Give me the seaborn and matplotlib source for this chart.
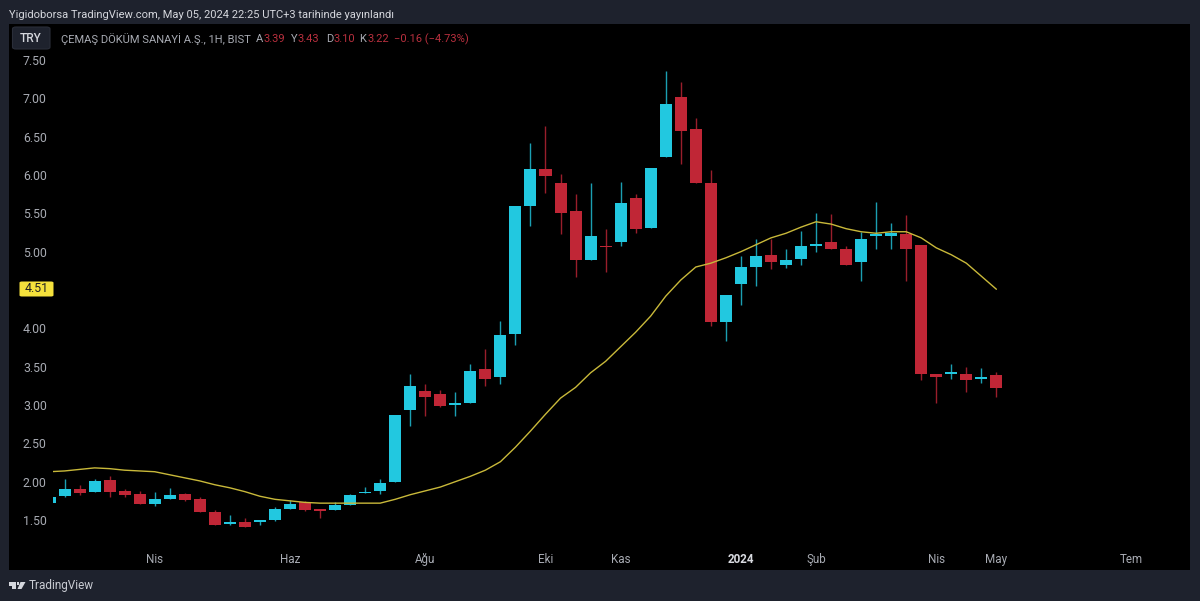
import numpy as np
import pandas as pd
import seaborn as sns
import matplotlib.pyplot as plt
from matplotlib.patches import FancyBboxPatch, Rectangle, Polygon

# candle data, one row per bar
opens = [1.72, 1.81, 1.90, 1.87, 2.02, 1.88, 1.84, 1.71, 1.78, 1.84, 1.78, 1.61, 1.45, 1.47, 1.48, 1.50,
         1.65, 1.73, 1.64, 1.63, 1.70, 1.85, 1.88, 2.00, 2.93, 3.18, 3.15, 3.00, 3.02, 3.47, 3.37, 3.93,
         5.59, 6.08, 5.90, 5.53, 4.89, 5.08, 5.12, 5.70, 5.31, 6.23, 7.02, 6.60, 5.90, 4.08, 4.58, 4.80,
         4.96, 4.83, 4.90, 5.08, 5.13, 5.04, 4.86, 5.21, 5.21, 5.23, 5.09, 3.41, 3.41, 3.40, 3.34, 3.39]
highs = [1.80, 2.03, 1.96, 2.04, 2.07, 1.91, 1.88, 1.86, 1.92, 1.85, 1.80, 1.63, 1.57, 1.53, 1.50, 1.67,
         1.76, 1.75, 1.65, 1.73, 1.84, 1.93, 2.03, 2.87, 3.41, 3.27, 3.20, 3.17, 3.54, 3.73, 4.10, 5.59,
         6.42, 6.64, 6.01, 5.75, 5.90, 5.30, 5.91, 5.75, 6.09, 7.36, 7.21, 6.74, 6.07, 4.44, 4.94, 5.17,
         5.16, 5.04, 5.27, 5.51, 5.49, 5.07, 5.26, 5.65, 5.38, 5.48, 5.09, 3.41, 3.54, 3.50, 3.48, 3.43]
lows = [1.72, 1.80, 1.82, 1.87, 1.80, 1.80, 1.71, 1.68, 1.78, 1.75, 1.60, 1.43, 1.44, 1.41, 1.43, 1.49,
        1.65, 1.62, 1.52, 1.63, 1.70, 1.85, 1.84, 2.00, 2.73, 2.86, 2.97, 2.86, 3.02, 3.25, 3.27, 3.78,
        5.33, 5.76, 5.23, 4.67, 4.89, 4.74, 5.07, 5.25, 5.31, 6.23, 6.15, 5.90, 4.03, 3.83, 4.30, 4.55,
        4.78, 4.79, 4.83, 5.00, 5.03, 4.83, 4.62, 5.03, 5.03, 4.62, 3.33, 3.03, 3.34, 3.17, 3.29, 3.10]
closes = [1.80, 1.90, 1.85, 2.01, 1.87, 1.82, 1.71, 1.78, 1.83, 1.76, 1.60, 1.44, 1.48, 1.41, 1.50, 1.64,
          1.71, 1.63, 1.62, 1.70, 1.83, 1.87, 1.98, 2.87, 3.25, 3.10, 2.99, 3.02, 3.45, 3.34, 3.91, 5.59,
          6.08, 5.99, 5.51, 4.89, 5.20, 5.06, 5.63, 5.30, 6.09, 6.92, 6.58, 5.90, 4.08, 4.44, 4.80, 4.94,
          4.86, 4.89, 5.07, 5.10, 5.03, 4.83, 5.17, 5.22, 5.25, 5.04, 3.40, 3.37, 3.42, 3.32, 3.37, 3.22]
ma_line = [2.13, 2.14, 2.16, 2.18, 2.17, 2.15, 2.14, 2.13, 2.09, 2.05, 2.01, 1.96, 1.92, 1.87, 1.81, 1.77,
           1.75, 1.73, 1.72, 1.72, 1.72, 1.72, 1.72, 1.77, 1.83, 1.88, 1.93, 2.00, 2.07, 2.15, 2.26, 2.45,
           2.66, 2.88, 3.09, 3.23, 3.42, 3.57, 3.76, 3.95, 4.16, 4.42, 4.63, 4.80, 4.85, 4.92, 5.00, 5.09,
           5.18, 5.24, 5.32, 5.39, 5.36, 5.30, 5.26, 5.24, 5.26, 5.26, 5.18, 5.05, 4.96, 4.85, 4.68, 4.51]

y_ticks = [1.5, 2.0, 2.5, 3.0, 3.5, 4.0, 4.5, 5.0, 5.5, 6.0, 6.5, 7.0, 7.5]
x_tick_pos = [7, 16, 25, 33, 38, 46, 51, 59, 63, 72]
x_tick_labels = ['Nis', 'Haz', 'Ağu', 'Eki', 'Kas', '2024', 'Şub', 'Nis', 'May', 'Tem']

UP = '#22c8e0'
DOWN = '#c02636'
BG = '#1e222d'

df = pd.DataFrame({'open': opens, 'high': highs, 'low': lows, 'close': closes, 'ma': ma_line})
df['bar'] = np.arange(len(df))
df['color'] = np.where(df['close'] >= df['open'], UP, DOWN)

sns.set_style('dark')
plt.rcParams['font.family'] = ['Roboto', 'DejaVu Sans']

fig = plt.figure(figsize=(12, 6.01), dpi=100, facecolor=BG)
W, H = 1200, 601

# black chart panel, price scale sits in its left part
fig.add_artist(Rectangle((9 / W, 1 - 570 / H), 1181 / W, 546 / H, transform=fig.transFigure,
                         facecolor='black', edgecolor='none', zorder=-1))

# plot area x 53..1190, y 24..570
ax = fig.add_axes([53 / W, 1 - 570 / H, 1137 / W, 546 / H])
ax.set_facecolor('black')
ax.grid(False)
for s in ax.spines.values():
    s.set_visible(False)

# wicks and bodies
ax.vlines(df['bar'], df['low'], df['high'], colors=df['color'], linewidth=1.0, alpha=0.8, zorder=2)
body_bottom = df[['open', 'close']].min(axis=1)
body_height = (df['open'] - df['close']).abs().clip(lower=0.02)
ax.bar(df['bar'], body_height, bottom=body_bottom, width=0.8, color=df['color'], linewidth=0, zorder=3)

sns.lineplot(data=df, x='bar', y='ma', color='#c9b93a', linewidth=1.0, ax=ax, zorder=4)

# same scale as the picture: 15.03 px per bar, 76.67 px per 1.00
ax.set_xlim((53 - 49.5) / 15.03, (1190 - 49.5) / 15.03)
ax.set_ylim(7.5 - (570 - 60) / 76.67, 7.5 + (60 - 24) / 76.67)

ax.set_xlabel('')
ax.set_ylabel('')
ax.set_yticks(y_ticks)
ax.set_yticklabels([f'{t:.2f}' for t in y_ticks])
ax.tick_params(axis='y', length=0, pad=4.5, labelsize=8.8, labelcolor='#a8abb3')
ax.set_xticks(x_tick_pos)
ax.set_xticklabels(x_tick_labels)
ax.tick_params(axis='x', length=0, pad=-12.5, labelsize=8.4, labelcolor='#a8abb3')
for lab in ax.get_xticklabels():
    if lab.get_text() == '2024':
        lab.set_fontweight('bold')
        lab.set_color('#d8dae0')

# last value tag on the scale, it hides the 4.50 tick like in the picture
for lab in ax.get_yticklabels():
    if lab.get_text() == '4.50':
        lab.set_visible(False)
fig.add_artist(FancyBboxPatch((19.5 / W, 1 - 296.5 / H), 34 / W, 15 / H, transform=fig.transFigure,
                              boxstyle='round,pad=0,rounding_size=0.002', facecolor='#f5e13c',
                              edgecolor='none', zorder=5))
fig.text(36.5 / W, 1 - 289 / H, '4.51', color='#222222', fontsize=8.8, ha='center', va='center', zorder=6)

# header line
fig.text(9 / W, 1 - 15.5 / H, 'Yigidoborsa TradingView.com, May 05, 2024 22:25 UTC+3 tarihinde yayınlandı',
         color='#d5d7dd', fontsize=8.0, ha='left', va='center')

# currency button
fig.add_artist(FancyBboxPatch((12.5 / W, 1 - 49 / H), 37.5 / W, 22 / H, transform=fig.transFigure,
                              boxstyle='round,pad=0,rounding_size=0.003', facecolor='#1e222d',
                              edgecolor='#2a2e39', linewidth=0.8, zorder=5))
fig.text(30.5 / W, 1 - 38.5 / H, 'TRY', color='#d5d7dd', fontsize=8.6, fontweight='medium',
         ha='center', va='center', zorder=6)

# legend line with OHLC, label pieces placed one after the other
LABEL = '#a8abb3'
RED = '#b8303e'
pieces = [(61, 'ÇEMAŞ DÖKÜM SANAYİ A.Ş., 1H, BIST', LABEL), (256, 'A', LABEL), (263, '3.39', RED),
          (291, 'Y', LABEL), (298, '3.43', RED), (326, 'D', LABEL), (334, '3.10', RED),
          (359, 'K', LABEL), (367, '3.22', RED), (394, '−0.16 (−4.73%)', RED)]
for px, txt, col in pieces:
    fig.text(px / W, 1 - 39 / H, txt, color=col, fontsize=8.0, ha='left', va='center', zorder=6)


# footer logo has no glyph in any font, so it is drawn from small shapes
def px_xy(pts):
    return [(x / W, 1 - y / H) for x, y in pts]


LOGO = '#d5d7dd'
fig.add_artist(Polygon(px_xy([(8.5, 582), (16, 582), (16, 589), (12, 589), (12, 585.5), (8.5, 585.5)]),
                       closed=True, transform=fig.transFigure, facecolor=LOGO, edgecolor='none'))
fig.add_artist(Polygon(px_xy([(20.5, 582), (25.5, 582), (21.5, 589), (17.5, 589)]),
                       closed=True, transform=fig.transFigure, facecolor=LOGO, edgecolor='none'))
fig.add_artist(Rectangle((16.8 / W, 1 - 585 / H), 2.6 / W, 3 / H, transform=fig.transFigure,
                         facecolor=LOGO, edgecolor='none'))
fig.text(29 / W, 1 - 585.5 / H, 'TradingView', color='#c9ccd3', fontsize=8.5, ha='left', va='center')

fig.savefig('out.png', dpi=100, facecolor=fig.get_facecolor())
